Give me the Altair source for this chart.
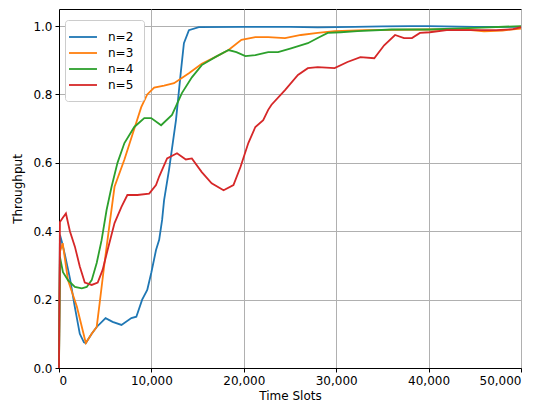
import altair as alt
import pandas as pd

series_names = ["n=2", "n=3", "n=4", "n=5"]
series_colors = ["#1f77b4", "#ff7f0e", "#2ca02c", "#d62728"]

t_n2 = [0, 100, 300, 650, 1200, 1700, 2250, 2700, 2900, 3540, 4080, 5040, 5800, 6760, 7830, 8370,
        9000, 9550, 10000, 10500, 10840, 11160, 11370, 11910, 12660, 13200, 13520, 14060, 15130,
        20000, 25000, 28000, 32000, 35000, 38000, 40000, 45000, 50000]
v_n2 = [0, 0.39, 0.37, 0.33, 0.26, 0.18, 0.10, 0.075, 0.073, 0.10, 0.12, 0.146, 0.135, 0.126, 0.146, 0.15,
        0.2, 0.228, 0.28, 0.345, 0.375, 0.433, 0.49, 0.58, 0.725, 0.87, 0.95, 0.988, 0.997,
        0.998, 0.998, 0.996, 0.998, 0.999, 1.0, 1.0, 0.998, 0.998]

t_n3 = [0, 100, 400, 970, 1930, 2900, 3540, 4080, 4400, 4940, 5470, 6010, 7080, 8150, 8900, 9550,
        10300, 11370, 12450, 14060, 15450, 16950, 18350, 19740, 21250, 22640, 24460, 26180, 28000,
        29830, 33000, 40000, 44000, 46000, 48000, 50000]
v_n3 = [0, 0.34, 0.365, 0.257, 0.18, 0.073, 0.10, 0.12, 0.19, 0.31, 0.42, 0.53, 0.61, 0.70, 0.763, 0.80,
        0.82, 0.826, 0.833, 0.862, 0.89, 0.91, 0.93, 0.96, 0.968, 0.968, 0.965, 0.974, 0.98,
        0.985, 0.988, 0.99, 0.99, 0.985, 0.987, 0.993]

t_n4 = [0, 100, 430, 970, 1720, 2470, 3000, 3540, 4080, 4610, 5150, 5690, 6330, 7080, 8150, 9230,
        9980, 11050, 12230, 13300, 14380, 15450, 16950, 18350, 19200, 20170, 21250, 22640, 23710,
        25110, 26930, 28000, 29080, 30470, 32300, 36000, 40000, 45000, 50000]
v_n4 = [0, 0.325, 0.28, 0.257, 0.237, 0.233, 0.237, 0.257, 0.307, 0.374, 0.462, 0.53, 0.60, 0.658, 0.705, 0.731,
        0.731, 0.71, 0.74, 0.804, 0.85, 0.886, 0.91, 0.93, 0.924, 0.912, 0.915, 0.924, 0.924,
        0.935, 0.95, 0.965, 0.98, 0.982, 0.985, 0.99, 0.99, 0.995, 1.0]

t_n5 = [0, 100, 430, 750, 1180, 1720, 2250, 2790, 3540, 4190, 4720, 5260, 6010, 6760, 7400, 8480,
        9760, 10500, 10840, 11700, 12770, 13730, 14380, 15450, 16520, 17810, 18880, 19640, 20490,
        21250, 22100, 22640, 23000, 24460, 25860, 26930, 28000, 29830, 31220, 32620, 34120, 35190,
        36370, 37340, 38200, 39060, 40130, 41960, 44420, 47320, 49140, 50000]
v_n5 = [0, 0.427, 0.44, 0.452, 0.40, 0.355, 0.297, 0.25, 0.243, 0.25, 0.287, 0.345, 0.424, 0.471, 0.506, 0.506,
        0.51, 0.535, 0.56, 0.613, 0.628, 0.61, 0.613, 0.573, 0.54, 0.52, 0.535, 0.588, 0.658,
        0.705, 0.725, 0.755, 0.77, 0.813, 0.857, 0.877, 0.88, 0.877, 0.895, 0.909, 0.906, 0.944,
        0.974, 0.965, 0.965, 0.98, 0.982, 0.988, 0.988, 0.988, 0.991, 0.997]

x_ticks = [0, 10000, 20000, 30000, 40000, 50000]
y_ticks = [0.0, 0.2, 0.4, 0.6, 0.8, 1.0]

frames = []
for i, (name, ts, vs) in enumerate(zip(series_names, [t_n2, t_n3, t_n4, t_n5], [v_n2, v_n3, v_n4, v_n5])):
    frames.append(pd.DataFrame({"t": ts, "v": vs, "series": name, "k": i}))
df = pd.concat(frames, ignore_index=True)

chart = alt.Chart(df).mark_line(strokeWidth=1.8).encode(
    x=alt.X("t:Q", scale=alt.Scale(domain=[0, 50000], nice=False),
            axis=alt.Axis(title="Time Slots", values=x_ticks, format=",d", titlePadding=4)),
    y=alt.Y("v:Q", scale=alt.Scale(domain=[0, 1.05], nice=False),
            axis=alt.Axis(title="Throughput", values=y_ticks, format=".1f", titlePadding=8)),
    color=alt.Color("series:N", scale=alt.Scale(domain=series_names, range=series_colors),
                    legend=alt.Legend(title=None, orient="none", legendX=6, legendY=11,
                                      symbolType="M-2.33,0H2.33", symbolSize=144, symbolStrokeWidth=1.8,
                                      labelFontSize=12, padding=10, strokeColor="#cccccc",
                                      fillColor="white", cornerRadius=3, rowPadding=3,
                                      labelOffset=18, symbolOffset=1)),
    order=alt.Order("t:Q"),
).properties(
    width=462, height=359,
    autosize=alt.AutoSizeParams(type="none"),
    padding={"left": 51, "top": 1, "right": 21, "bottom": 37},
).configure_axis(
    domainColor="black", domainWidth=1, tickColor="black", tickSize=4, tickWidth=1,
    gridColor="#b0b0b0", gridWidth=1, labelColor="black", titleColor="black",
    labelFont="DejaVu Sans", titleFont="DejaVu Sans", labelFontSize=12, titleFontSize=12,
    titleFontWeight="normal", labelPadding=3,
).configure_legend(
    labelFont="DejaVu Sans", labelColor="black",
).configure_view(stroke="black", strokeWidth=1)

chart.save("out.html", embed_options={"renderer": "svg", "actions": False})
